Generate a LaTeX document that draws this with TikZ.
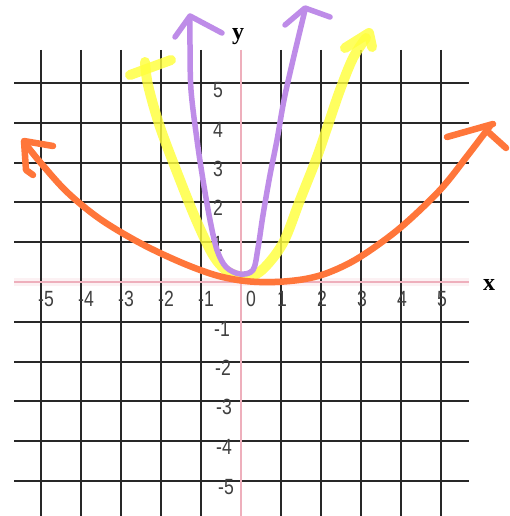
\documentclass[tikz,border=0pt]{standalone}
\usepackage{fontspec}
\setmainfont{Liberation Sans}
\newfontfamily\serifbold{Liberation Serif}
\definecolor{gridc}{RGB}{40,40,40}
\definecolor{axisc}{RGB}{238,175,188}
\definecolor{orangec}{RGB}{255,118,58}
\definecolor{purplec}{RGB}{190,140,232}
\definecolor{yellowc}{RGB}{255,255,60}
\begin{document}
\begin{tikzpicture}[x=1pt,y=-1pt,
  gridline/.style={draw=gridc,line width=2.2pt},
  axisline/.style={draw=axisc,line width=2pt},
  axishalo/.style={draw=axisc!18,line width=8pt},
  numlab/.style={font=\fontsize{22}{22}\selectfont,text=black!75,inner sep=0pt,xscale=0.8},
  axlab/.style={font=\serifbold\bfseries\fontsize{24}{24}\selectfont,inner sep=0pt},
  pen/.style={line width=#1,line cap=round,line join=round},
  orangepen/.style={pen=6.5pt,draw=orangec},
  purplepen/.style={pen=5.5pt,draw=purplec},
  yellowpen/.style={pen=10pt,draw=yellowc,draw opacity=0.82}]
\useasboundingbox[fill=white] (0,0) rectangle (509,516);
% grid
\draw[axishalo] (14,282) -- (469,282);
\foreach \gx in {41,81,121,161,201,281,321,361,401,441}
  \draw[gridline] (\gx,50) -- (\gx,516);
\foreach \gy in {83,123,163,202,242,322,362,401,441,481}
  \draw[gridline] (14,\gy) -- (469,\gy);
\draw[axisline] (14,282) -- (469,282);
\draw[axisline] (241,50) -- (241,516);
% x labels
\node[numlab] (xm5) at (46,299) {-5};
\node[numlab] (xm4) at (86,299) {-4};
\node[numlab] (xm3) at (126,299) {-3};
\node[numlab] (xm2) at (166,299) {-2};
\node[numlab] (xm1) at (206,299) {-1};
\node[numlab] (x0) at (251,299) {0};
\node[numlab] (x1) at (282,299) {1};
\node[numlab] (x2) at (322,299) {2};
\node[numlab] (x3) at (362,299) {3};
\node[numlab] (x4) at (402,299) {4};
\node[numlab] (x5) at (442,299) {5};
% y labels
\node[numlab] (y5) at (218,90) {5};
\node[numlab] (y4) at (218,130) {4};
\node[numlab] (y3) at (218,169) {3};
\node[numlab] (y2) at (218,208) {2};
\node[numlab] (y1) at (218,244) {1};
\node[numlab] (ym1) at (222,329) {-1};
\node[numlab] (ym2) at (223,368) {-2};
\node[numlab] (ym3) at (224,407) {-3};
\node[numlab] (ym4) at (224,447) {-4};
\node[numlab] (ym5) at (226,487) {-5};
\node[axlab] (ylab) at (238,37) {y};
\node[axlab] (xlab) at (489,285) {x};
% yellow parabola
\draw[yellowpen] plot[smooth,tension=0.55] coordinates {(145,62) (148,85) (160,127) (180,180) (197,222) (213,255) (227,271) (245,277) (262,270) (283,243) (300,200) (317,157) (328,125) (340,90) (353,58) (366,38)};
\draw[yellowpen] (130,75) -- (171,60);
\draw[yellowpen] (345,48) -- (369,33) -- (372,47);
% purple parabola
\draw[purplepen] plot[smooth,tension=0.55] coordinates {(190,17) (190,45) (191,90) (197,140) (203,180) (210,220) (217,250) (226,267) (240,274) (253,270) (258,248) (263,215) (270,175) (277,140) (284,100) (293,60) (305,10)};
\draw[purplepen] (175,37) -- (190,16) -- (222,33);
\draw[purplepen] (285,25) -- (305,8) -- (330,17);
% orange parabola
\draw[orangepen] plot[smooth,tension=0.55] coordinates {(24,142) (40,162) (67,192) (100,219) (140,243) (180,262) (215,275) (245,281) (275,282) (305,279) (330,272) (360,257) (400,228) (440,190) (468,155) (490,126)};
\draw[orangepen] (53,146) -- (24,141) -- (26,170) -- (33,175);
\draw[orangepen] (447,137) -- (493,124);
\draw[orangepen] (486,130) -- (506,148);
\end{tikzpicture}
\end{document}
